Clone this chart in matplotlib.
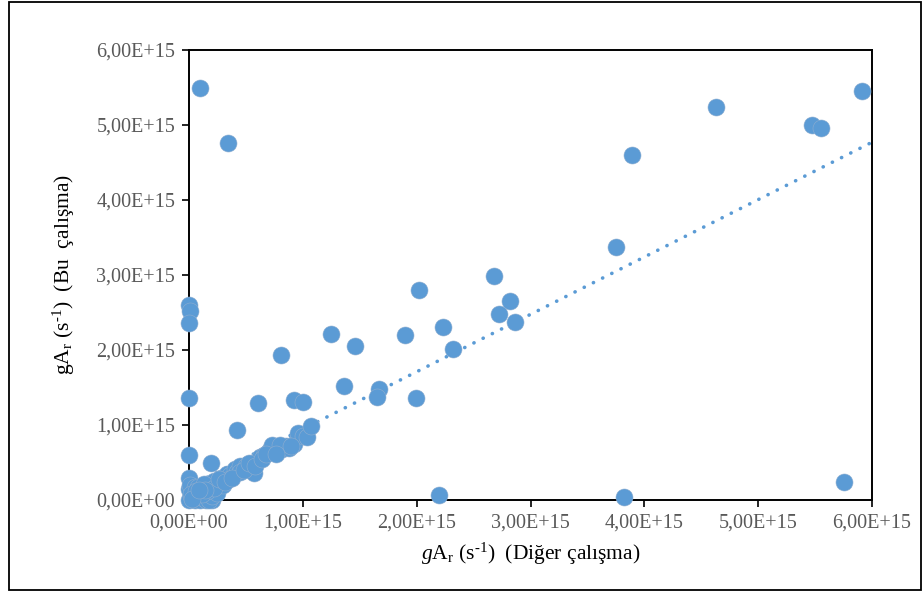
import matplotlib
matplotlib.use("Agg")
import matplotlib.pyplot as plt
import numpy as np
from matplotlib.patches import Rectangle

# gA_r değerleri (1E15 birimi): diğer çalışma (x) ve bu çalışma (y)
x_other = [
    0.096, 0.34, 4.63, 5.47, 5.55, 5.91, 3.89, 3.75, 2.68, 2.02, 2.82, 2.72, 2.86,
    2.23, 1.25, 1.90, 2.32, 1.46, 0.81, 1.36, 1.67, 1.65, 1.99, 0.61, 0.92, 1.00,
    0.42, 2.20, 3.82, 5.75,
    0.00, 0.01, 0.00, 0.00, 0.00, 0.00, 0.19, 0.57,
    0.05, 0.08, 0.10, 0.12, 0.15, 0.18, 0.20, 0.22, 0.25, 0.28, 0.30, 0.33, 0.36,
    0.40, 0.42, 0.45, 0.50, 0.55, 0.60, 0.62, 0.66, 0.70, 0.72, 0.75, 0.78, 0.82,
    0.85, 0.88, 0.92, 0.96, 1.00, 1.04, 1.07, 0.73, 0.80, 0.90,
    0.00, 0.02, 0.03, 0.05, 0.07, 0.10, 0.12, 0.15, 0.17, 0.20, 0.00, 0.01, 0.05,
    0.18, 0.20, 0.25, 0.30, 0.35, 0.45,
    0.08, 0.13, 0.16, 0.22, 0.26, 0.32, 0.38, 0.48, 0.53, 0.58, 0.64, 0.68, 0.76,
    0.02, 0.06, 0.11, 0.14, 0.03, 0.09,
]
y_this = [
    5.49, 4.76, 5.24, 5.00, 4.96, 5.45, 4.60, 3.37, 2.99, 2.80, 2.65, 2.48, 2.37,
    2.31, 2.21, 2.20, 2.01, 2.05, 1.93, 1.52, 1.48, 1.37, 1.36, 1.29, 1.33, 1.31,
    0.93, 0.07, 0.04, 0.24,
    2.60, 2.52, 2.36, 1.36, 0.60, 0.30, 0.49, 0.36,
    0.03, 0.10, 0.05, 0.15, 0.08, 0.20, 0.12, 0.25, 0.18, 0.30, 0.25, 0.35, 0.33,
    0.42, 0.38, 0.45, 0.45, 0.48, 0.52, 0.57, 0.60, 0.65, 0.70, 0.67, 0.70, 0.68,
    0.72, 0.70, 0.75, 0.89, 0.85, 0.84, 0.99, 0.73, 0.73, 0.72,
    0.00, 0.05, 0.10, 0.00, 0.02, 0.00, 0.03, 0.00, 0.06, 0.00, 0.15, 0.20, 0.18,
    0.00, 0.05, 0.10, 0.20, 0.28, 0.38,
    0.18, 0.22, 0.12, 0.16, 0.28, 0.24, 0.30, 0.40, 0.50, 0.46, 0.55, 0.62, 0.62,
    0.08, 0.12, 0.08, 0.13, 0.02, 0.14,
]

# doğrusal eğilim çizgisi
trend_slope = 0.765
trend_intercept = 0.18

tick_vals = [0, 1, 2, 3, 4, 5, 6]
x_tick_labels = ["0,00E+00", "1,00E+15", "2,00E+15", "3,00E+15", "4,00E+15", "5,00E+15", "6,00E+15"]
y_tick_labels = ["0,00E+00", "1,00E+15", "2,00E+15", "3,00E+15", "4,00E+15", "5,00E+15", "6,00E+15"]

plt.rcParams["font.family"] = ["Liberation Serif", "DejaVu Serif"]
plt.rcParams["mathtext.fontset"] = "custom"
plt.rcParams["mathtext.rm"] = "Liberation Serif"
plt.rcParams["mathtext.it"] = "Liberation Serif:italic"

blue = "#5B9BD5"

fig = plt.figure(figsize=(9.23, 5.92), dpi=100)
ax = fig.add_axes([189 / 923, 92 / 592, (872 - 189) / 923, (500 - 50) / 592])

tx = np.array([0, 6.0])
ax.plot(tx, trend_intercept + trend_slope * tx, color=blue, lw=2.6,
        linestyle=(0, (0.05, 2.8)), dash_capstyle="round", zorder=2)

ax.scatter(x_other, y_this, s=150, color=blue, edgecolors="#8faed0", linewidths=0.4,
           zorder=5, clip_on=False)

ax.set_xlim(0, 6)
ax.set_ylim(0, 6)
ax.set_xticks(tick_vals)
ax.set_xticklabels(x_tick_labels)
ax.set_yticks(tick_vals)
ax.set_yticklabels(y_tick_labels)
ax.tick_params(direction="out", length=5, width=1.2, colors="black",
               labelcolor="#595959", labelsize=14.5, pad=5)
for sp in ax.spines.values():
    sp.set_linewidth(1.4)
    sp.set_color("black")

ax.set_xlabel(r"$g$A$_\mathrm{r}$ (s$^{\text{-1}}$)  (Diğer çalışma)", fontsize=15.5, labelpad=6)
ax.set_ylabel(r"gA$_\mathrm{r}$ (s$^{\text{-1}}$)  (Bu  çalışma)", fontsize=15.5, labelpad=14)

fig.patches.append(Rectangle((9 / 923, 2 / 592), 912 / 923, 588 / 592, transform=fig.transFigure,
                             fill=False, edgecolor="black", lw=1.3))

fig.savefig("out.png", dpi=100)
